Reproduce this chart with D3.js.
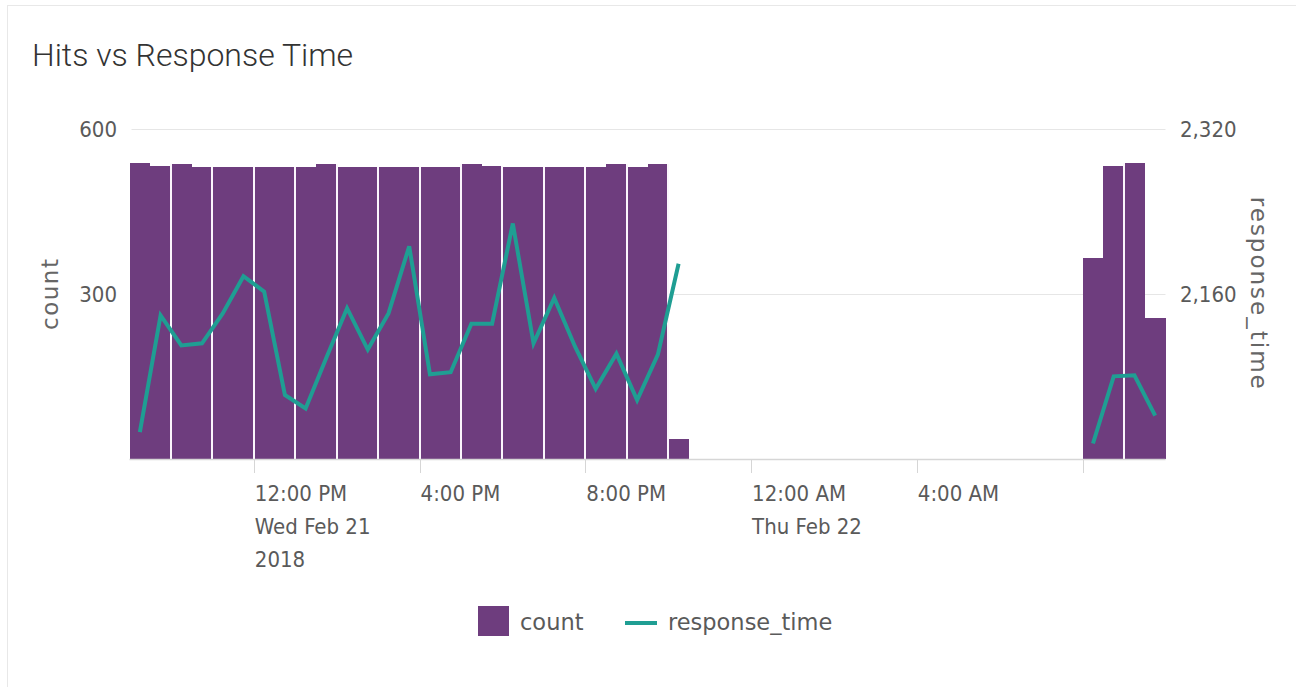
<!DOCTYPE html>
<html>
<head>
<meta charset="utf-8">
<script src="https://cdn.jsdelivr.net/npm/d3@7"></script>
<style>
  html, body { margin: 0; padding: 0; background: #fff; }
  svg { display: block; }
</style>
</head>
<body>
<svg id="chart" width="1296" height="687"></svg>
<script>
// Half-hour bins (start times) with hit counts and average response time
const binStarts = [
  "2018-02-21T09:00", "2018-02-21T09:30", "2018-02-21T10:00", "2018-02-21T10:30",
  "2018-02-21T11:00", "2018-02-21T11:30", "2018-02-21T12:00", "2018-02-21T12:30",
  "2018-02-21T13:00", "2018-02-21T13:30", "2018-02-21T14:00", "2018-02-21T14:30",
  "2018-02-21T15:00", "2018-02-21T15:30", "2018-02-21T16:00", "2018-02-21T16:30",
  "2018-02-21T17:00", "2018-02-21T17:30", "2018-02-21T18:00", "2018-02-21T18:30",
  "2018-02-21T19:00", "2018-02-21T19:30", "2018-02-21T20:00", "2018-02-21T20:30",
  "2018-02-21T21:00", "2018-02-21T21:30", "2018-02-21T22:00",
  "2018-02-22T08:00", "2018-02-22T08:30", "2018-02-22T09:00", "2018-02-22T09:30"
];
const counts = [
  537, 532, 536, 531, 531, 531, 531, 531, 531, 536, 531, 531, 531, 531,
  531, 531, 536, 532, 531, 531, 531, 531, 531, 535, 531, 536, 36,
  364, 532, 537, 256
];
const responseTimes = [
  2026, 2139, 2110, 2112, 2141, 2177, 2162, 2062, 2049, 2098, 2146, 2106, 2141,
  2206, 2082, 2084, 2131, 2131, 2228, 2112, 2156, 2109, 2068, 2102, 2057, 2101, 2189,
  2015, 2080, 2081, 2042
];
const timeDomain = ["2018-02-21T09:00", "2018-02-22T10:00"];
const timeTicks = [
  "2018-02-21T12:00", "2018-02-21T16:00", "2018-02-21T20:00",
  "2018-02-22T00:00", "2018-02-22T04:00", "2018-02-22T08:00"
];
const countDomain = [0, 600];
const countTicks = [300, 600];
const responseDomain = [2000, 2320];
const responseTicks = [2160, 2320];
const seriesNames = ["count", "response_time"];

const BAR_COLOR = "#6e3d7e";
const LINE_COLOR = "#1f9e93";
const TEXT_COLOR = "#5a5a5a";
const TICK_FONT = "'DejaVu Sans Condensed', Roboto, sans-serif";

const parse = d3.timeParse("%Y-%m-%dT%H:%M");
const BIN_MS = 30 * 60 * 1000;

const data = binStarts.map((s, i) => ({
  start: parse(s),
  end: new Date(parse(s).getTime() + BIN_MS),
  count: counts[i],
  rt: responseTimes[i]
}));

const plot = { left: 129.5, right: 1165.5, top: 128.5, bottom: 459 };

const x = d3.scaleTime().domain(timeDomain.map(parse)).range([plot.left, plot.right]);
const yCount = d3.scaleLinear().domain(countDomain).range([plot.bottom, plot.top]);
const yResp = d3.scaleLinear().domain(responseDomain).range([plot.bottom, plot.top]);

const svg = d3.select("#chart");

// panel frame
svg.append("line").attr("x1", 7).attr("x2", 1296).attr("y1", 5.5).attr("y2", 5.5)
  .attr("stroke", "#e8e8e8").attr("stroke-width", 1);
svg.append("line").attr("x1", 7.5).attr("x2", 7.5).attr("y1", 5).attr("y2", 687)
  .attr("stroke", "#e8e8e8").attr("stroke-width", 1);

// title
svg.append("text")
  .attr("x", 32).attr("y", 66)
  .attr("font-family", "Roboto, sans-serif")
  .attr("font-size", 32)
  .attr("font-weight", 300)
  .attr("fill", "#333")
  .text("Hits vs Response Time");

// horizontal gridlines
svg.append("g").selectAll("line")
  .data(countTicks)
  .join("line")
  .attr("x1", plot.left + 2).attr("x2", plot.right)
  .attr("y1", d => Math.round(yCount(d)) + 0.5)
  .attr("y2", d => Math.round(yCount(d)) + 0.5)
  .attr("stroke", "#e6e6e6").attr("stroke-width", 1);

// count columns, snapped to whole pixels so adjacent columns meet cleanly
const px = t => Math.round(x(t));
svg.append("g").selectAll("rect")
  .data(data)
  .join("rect")
  .attr("x", d => px(d.start))
  .attr("width", d => px(d.end) - px(d.start))
  .attr("y", d => Math.round(yCount(d.count)))
  .attr("height", d => Math.round(yCount(0)) - Math.round(yCount(d.count)))
  .attr("fill", BAR_COLOR)
  .attr("shape-rendering", "crispEdges");

// thin white rules on the hour between adjacent columns
const seps = [];
for (let i = 0; i < data.length - 1; i++) {
  const a = data[i], b = data[i + 1];
  if (a.end.getTime() === b.start.getTime() && a.end.getMinutes() === 0) {
    seps.push({ t: a.end, v: Math.max(a.count, b.count) });
  }
}
svg.append("g").selectAll("rect")
  .data(seps)
  .join("rect")
  .attr("x", d => px(d.t) - 1).attr("width", 2)
  .attr("y", d => Math.round(yCount(d.v)))
  .attr("height", d => Math.round(yCount(0)) - Math.round(yCount(d.v)))
  .attr("fill", "#fbf6fc")
  .attr("shape-rendering", "crispEdges");

// response time line, broken where bins are missing
const segments = [];
let current = [];
data.forEach((d, i) => {
  if (i > 0 && d.start.getTime() !== data[i - 1].end.getTime()) {
    segments.push(current);
    current = [];
  }
  current.push(d);
});
segments.push(current);

const line = d3.line()
  .x(d => x(new Date(d.start.getTime() + BIN_MS / 2)))
  .y(d => yResp(d.rt));

svg.append("g").selectAll("path")
  .data(segments)
  .join("path")
  .attr("d", line)
  .attr("fill", "none")
  .attr("stroke", LINE_COLOR)
  .attr("stroke-width", 4)
  .attr("stroke-linejoin", "miter")
  .attr("stroke-linecap", "butt");

// x axis
const xAxis = svg.append("g");
xAxis.append("line")
  .attr("x1", plot.left).attr("x2", plot.right)
  .attr("y1", plot.bottom + 0.5).attr("y2", plot.bottom + 0.5)
  .attr("stroke", "#d6d6d6").attr("stroke-width", 1.5);

const fmtTime = d3.timeFormat("%-I:%M %p");
const fmtDay = d3.timeFormat("%a %b %-d");
const fmtYear = d3.timeFormat("%Y");
const tickDates = timeTicks.map(parse);

tickDates.forEach((t, i) => {
  const tx = Math.round(x(t)) + 0.5;
  xAxis.append("line")
    .attr("x1", tx).attr("x2", tx)
    .attr("y1", plot.bottom).attr("y2", plot.bottom + 14)
    .attr("stroke", "#d6d6d6").attr("stroke-width", 1);

  const lines = [fmtTime(t)];
  if (i === 0 || t.getHours() === 0) lines.push(fmtDay(t));
  if (i === 0) lines.push(fmtYear(t));

  // skip a label that would run past the end of the axis
  if (x(t) + 90 > plot.right) return;

  const label = xAxis.append("text")
    .attr("x", x(t) + 1)
    .attr("y", 501)
    .attr("font-family", TICK_FONT)
    .attr("font-size", 22)
    .attr("fill", TEXT_COLOR);
  lines.forEach((s, k) => {
    label.append("tspan").attr("x", x(t) + 1).attr("y", 501 + k * 33).text(s);
  });
});

// left axis labels
svg.append("g").selectAll("text")
  .data(countTicks)
  .join("text")
  .attr("x", 117)
  .attr("y", d => yCount(d) + 8)
  .attr("text-anchor", "end")
  .attr("font-family", TICK_FONT)
  .attr("font-size", 22)
  .attr("fill", TEXT_COLOR)
  .text(d => d3.format(",")(d));

// right axis labels
svg.append("g").selectAll("text")
  .data(responseTicks)
  .join("text")
  .attr("x", 1180)
  .attr("y", d => yResp(d) + 8)
  .attr("text-anchor", "start")
  .attr("font-family", TICK_FONT)
  .attr("font-size", 22)
  .attr("fill", TEXT_COLOR)
  .text(d => d3.format(",")(d));

// axis titles
const midY = (plot.top + plot.bottom) / 2;
svg.append("text")
  .attr("transform", `translate(58,${midY}) rotate(-90)`)
  .attr("text-anchor", "middle")
  .attr("font-family", "'DejaVu Sans', sans-serif")
  .attr("font-size", 23)
  .attr("letter-spacing", 1.5)
  .attr("fill", "#666")
  .text(seriesNames[0]);
svg.append("text")
  .attr("transform", `translate(1251,${midY}) rotate(90)`)
  .attr("text-anchor", "middle")
  .attr("font-family", "'DejaVu Sans', sans-serif")
  .attr("font-size", 23)
  .attr("letter-spacing", 2)
  .attr("fill", "#666")
  .text(seriesNames[1]);

// legend
const legend = svg.append("g").attr("font-family", "'DejaVu Sans', sans-serif")
  .attr("font-size", 22.5).attr("fill", TEXT_COLOR);
legend.append("rect").attr("x", 478).attr("y", 606).attr("width", 31).attr("height", 30)
  .attr("fill", BAR_COLOR);
legend.append("text").attr("x", 520).attr("y", 630).text(seriesNames[0]);
legend.append("line").attr("x1", 625).attr("x2", 657).attr("y1", 623).attr("y2", 623)
  .attr("stroke", LINE_COLOR).attr("stroke-width", 4);
legend.append("text").attr("x", 668).attr("y", 630).text(seriesNames[1]);
</script>
</body>
</html>
